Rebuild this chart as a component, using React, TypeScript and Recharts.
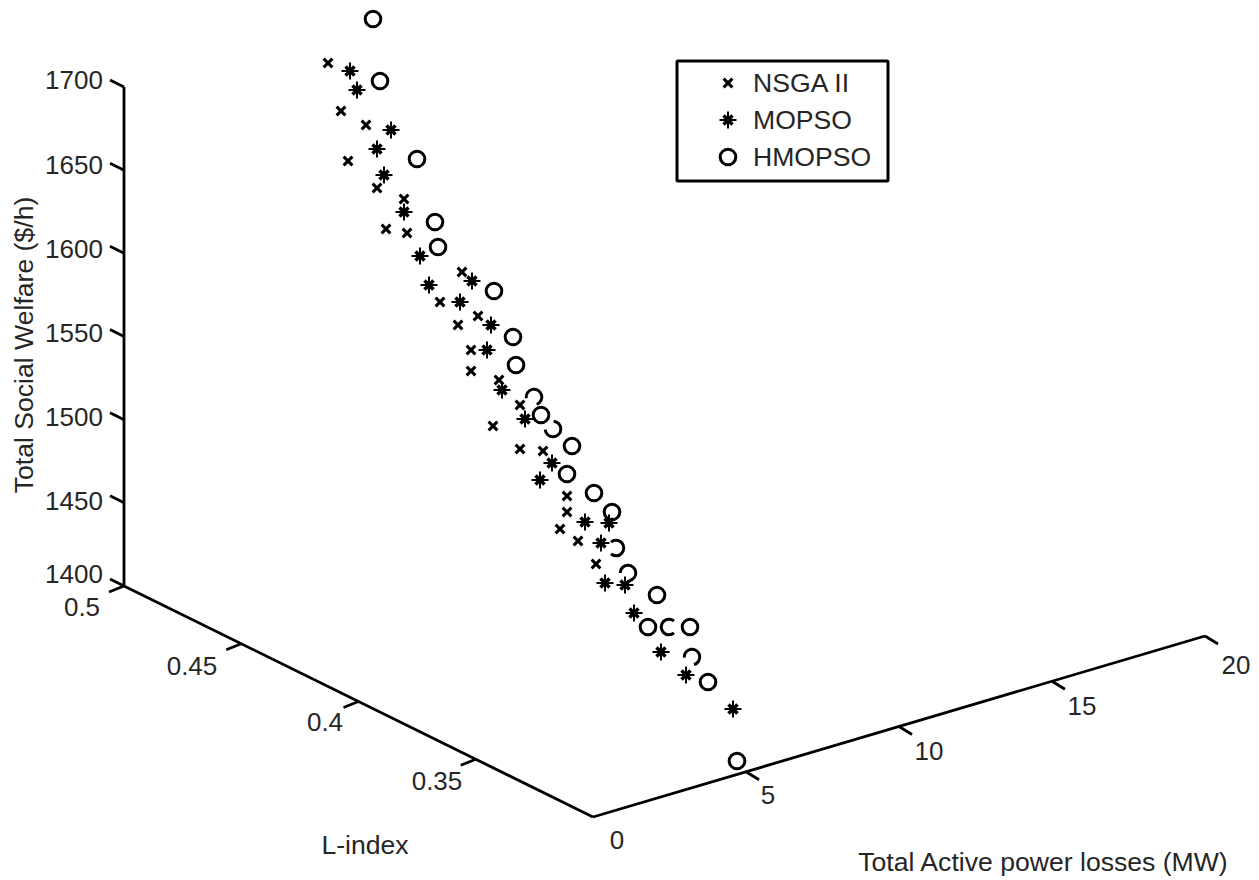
import React from "react";
import { ScatterChart, Scatter, XAxis, YAxis, ReferenceLine, ReferenceDot, Legend } from "recharts";

// Points, on the flat plane of the 3-D view
const nsgaViewX = [328, 341, 366, 348, 377, 404, 386, 407, 462, 440, 478, 458, 471, 471, 499, 520, 493, 520, 543, 567, 567, 560, 578, 596];
const nsgaViewY = [63, 111, 125, 161, 188, 199, 229, 233, 272, 302, 316, 325, 350, 371, 380, 405, 426, 449, 451, 496, 512, 529, 541, 564];
const mopsoViewX = [350, 357, 391, 377, 384, 404, 420, 472, 429, 460, 491, 487, 502, 525, 552, 540, 585, 609, 601, 605, 625, 634, 661, 686, 733];
const mopsoViewY = [71, 90, 130, 149, 175, 212, 256, 281, 285, 302, 325, 350, 390, 419, 463, 480, 522, 523, 543, 583, 585, 613, 652, 675, 709];
const hmopsoViewX = [373, 380, 417, 435, 438, 494, 513, 516, 534, 541, 553, 572, 567, 594, 612, 616, 628, 657, 648, 669, 690, 692, 708, 737];
const hmopsoViewY = [19, 81, 159, 222, 247, 291, 337, 365, 397, 415, 429, 446, 474, 493, 512, 548, 573, 595, 627, 627, 627, 657, 682, 761];

const welfareTicks = [1400, 1450, 1500, 1550, 1600, 1650, 1700];
const lIndexTicks = [0.5, 0.45, 0.4, 0.35];
const lossTicks = [0, 5, 10, 15, 20];

const welfareLabelY = [574, 501, 417, 333, 249, 165, 80];
const lIndexLabelAt = [[82, 607], [192, 666], [325, 722], [437, 781]];
const lossLabelAt = [[617, 840], [768, 795], [929, 751], [1082, 706], [1236, 665]];

// Circles whose ring is interrupted in the picture: direction of the gap, in degrees
const ringGaps: Record<string, number> = {
  "534,397": 120,
  "553,429": 225,
  "616,548": 180,
  "628,573": 130,
  "669,627": 0,
  "692,657": 125,
};

const FONT = "'Liberation Sans', Arial, sans-serif";
const INK = "#262626";
const FS = 26;
const TITLE_FS = 26.6;

const zip = (xs: number[], ys: number[]) => xs.map((x, i) => ({ x, y: ys[i] }));

// View-plane projection of the three axes
const welfareAt = (w: number) => ({ x: 124, y: 586 - ((w - 1400) / 300) * 499 });
const lIndexAt = (l: number) => ({ x: 593 - ((l - 0.3) / 0.2) * 469, y: 817 - ((l - 0.3) / 0.2) * 231 });
const lossAt = (m: number) => ({ x: 593 + (m / 20) * 612, y: 817 - (m / 20) * 181 });

const XMark = ({ cx, cy }: any) => (
  <g stroke="#000" strokeWidth={3} fill="none">
    <line x1={cx - 4.4} y1={cy - 4.4} x2={cx + 4.4} y2={cy + 4.4} />
    <line x1={cx - 4.4} y1={cy + 4.4} x2={cx + 4.4} y2={cy - 4.4} />
  </g>
);
const StarMark = ({ cx, cy }: any) => (
  <g stroke="#000" fill="none">
    <line x1={cx} y1={cy - 8.5} x2={cx} y2={cy + 8.5} strokeWidth={2} />
    <line x1={cx - 8.5} y1={cy} x2={cx + 8.5} y2={cy} strokeWidth={2} />
    <line x1={cx - 4.5} y1={cy - 4.5} x2={cx + 4.5} y2={cy + 4.5} strokeWidth={3.5} />
    <line x1={cx - 4.5} y1={cy + 4.5} x2={cx + 4.5} y2={cy - 4.5} strokeWidth={3.5} />
  </g>
);
const CircleMark = ({ cx, cy, payload }: any) => {
  const r = 7.8;
  const gap = payload ? ringGaps[`${payload.x},${payload.y}`] : undefined;
  if (gap === undefined) return <circle cx={cx} cy={cy} r={r} fill="none" stroke="#000" strokeWidth={3} />;
  const half = 50;
  const pt = (deg: number) => {
    const a = (deg * Math.PI) / 180;
    return `${cx + r * Math.cos(a)} ${cy + r * Math.sin(a)}`;
  };
  return (
    <path
      d={`M ${pt(gap + half)} A ${r} ${r} 0 1 1 ${pt(gap - half)}`}
      fill="none"
      stroke="#000"
      strokeWidth={3}
    />
  );
};

const legendRows = [
  { name: "NSGA II", Mark: XMark },
  { name: "MOPSO", Mark: StarMark },
  { name: "HMOPSO", Mark: CircleMark },
];

const LegendBox = () => (
  <svg width={216} height={126} style={{ position: "absolute", left: 0, top: 0, display: "block" }}>
    <rect x={2} y={2} width={211} height={120} fill="#fff" stroke="#000" strokeWidth={3} rx={1} />
    {legendRows.map((r, i) => (
      <g key={r.name}>
        <r.Mark cx={53} cy={24 + i * 37} />
        <text x={78} y={24 + i * 37} dy="0.35em" fontFamily={FONT} fontSize={TITLE_FS} fill={INK}>{r.name}</text>
      </g>
    ))}
  </svg>
);

const label = (key: string, x: number, y: number, text: string, rotate = false, size = FS) => (
  <ReferenceDot
    key={key}
    x={x}
    y={y}
    ifOverflow="visible"
    shape={(p: any) => (
      <text
        x={p.cx}
        y={p.cy}
        dy="0.35em"
        textAnchor="middle"
        fontFamily={FONT}
        fontSize={size}
        fill={INK}
        transform={rotate ? `rotate(-90 ${p.cx} ${p.cy})` : undefined}
      >
        {text}
      </text>
    )}
  />
);

const seg = (key: string, a: { x: number; y: number }, b: { x: number; y: number }, w = 2.8) => (
  <ReferenceLine key={key} segment={[a, b]} stroke="#000" strokeWidth={w} ifOverflow="visible" />
);

export default function App() {
  return (
    <div style={{ position: "absolute", left: 0, top: 0, background: "#fff" }}>
      <ScatterChart width={1259} height={880} margin={{ top: 0, right: 0, bottom: 0, left: 0 }}>
        <XAxis type="number" dataKey="x" domain={[0, 1259]} hide />
        <YAxis type="number" dataKey="y" domain={[0, 880]} reversed hide width={0} />

        {seg("zAxis", welfareAt(1400), welfareAt(1700))}
        {seg("lAxis", lIndexAt(0.5), lIndexAt(0.3))}
        {seg("mAxis", lossAt(0), lossAt(20))}

        {welfareTicks.map((t) => {
          const p = welfareAt(t);
          return seg(`zt${t}`, p, { x: p.x - 14, y: p.y - 7 });
        })}
        {lIndexTicks.map((t) => {
          const p = lIndexAt(t);
          return seg(`lt${t}`, p, { x: p.x - 15, y: p.y + 6 });
        })}
        {lossTicks.slice(1).map((t) => {
          const p = lossAt(t);
          return seg(`mt${t}`, p, { x: p.x + 13, y: p.y + 8 });
        })}

        {welfareTicks.map((t, i) => label(`zl${t}`, 74, welfareLabelY[i], String(t)))}
        {lIndexTicks.map((t, i) => label(`ll${t}`, lIndexLabelAt[i][0], lIndexLabelAt[i][1], String(t)))}
        {lossTicks.map((t, i) => label(`ml${t}`, lossLabelAt[i][0], lossLabelAt[i][1], String(t)))}

        {label("zTitle", 24, 345, "Total Social Welfare ($/h)", true, TITLE_FS)}
        {label("lTitle", 365, 845, "L-index", false, TITLE_FS)}
        {label("mTitle", 1043, 862, "Total Active power losses (MW)", false, TITLE_FS)}

        <Scatter name="NSGA II" data={zip(nsgaViewX, nsgaViewY)} shape={XMark} isAnimationActive={false} />
        <Scatter name="MOPSO" data={zip(mopsoViewX, mopsoViewY)} shape={StarMark} isAnimationActive={false} />
        <Scatter name="HMOPSO" data={zip(hmopsoViewX, hmopsoViewY)} shape={CircleMark} isAnimationActive={false} />

        <Legend
          content={() => <LegendBox />}
          width={0}
          height={0}
          wrapperStyle={{ position: "absolute", left: 675, top: 59, width: 0, height: 0, bottom: "auto", overflow: "visible" }}
        />
      </ScatterChart>
    </div>
  );
}
